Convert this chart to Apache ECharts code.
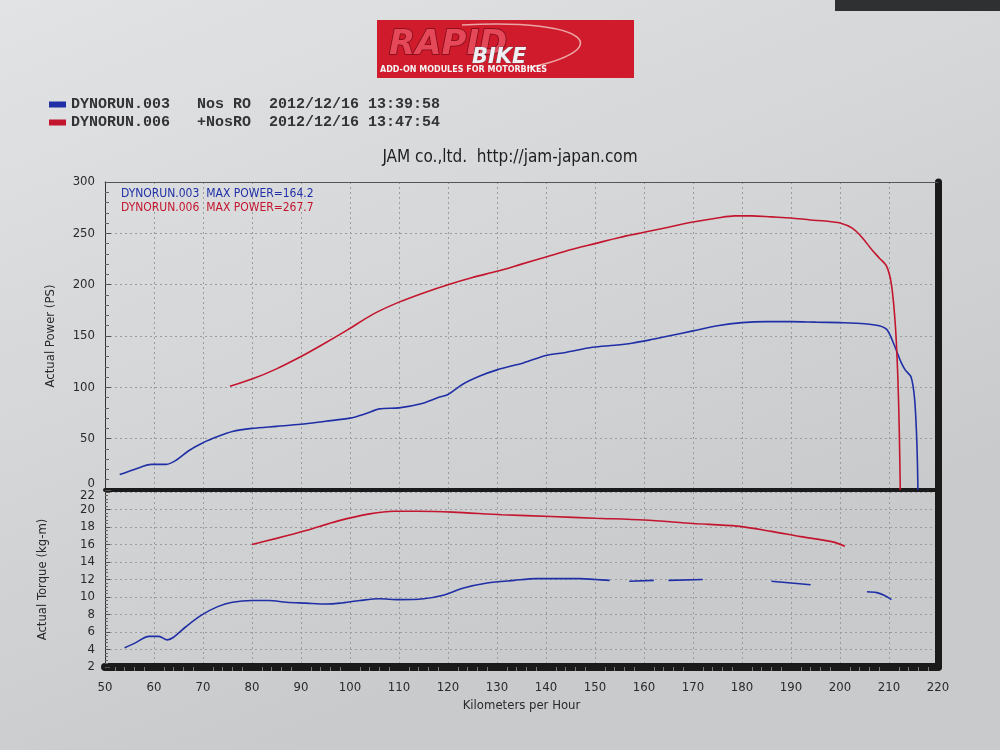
<!DOCTYPE html>
<html>
<head>
<meta charset="utf-8">
<script src="https://cdn.jsdelivr.net/npm/echarts@6/dist/echarts.min.js"></script>
<style>
html,body{margin:0;padding:0;background:#d6d7d9;}
#c{width:1000px;height:750px;}
</style>
</head>
<body>
<div id="c"></div>
<script>
// ---- data ----
const runNames = ['DYNORUN.003', 'DYNORUN.006'];
const runTags = ['Nos RO', '+NosRO'];
const runDates = ['2012/12/16 13:39:58', '2012/12/16 13:47:54'];
const maxPower = ['164.2', '267.7'];
const titleText = 'JAM co.,ltd.  http://jam-japan.com';
const xTicks = [50, 60, 70, 80, 90, 100, 110, 120, 130, 140, 150, 160, 170, 180, 190, 200, 210, 220];

const bluePowerKmh = [53, 56, 59.5, 62.5, 64.5, 67, 70, 73, 76, 80, 85, 90, 95, 100, 103, 106, 110, 114.5, 118, 120, 123, 126.5, 130, 135.5, 140, 144, 149.5, 154, 157.5, 161, 165, 170, 175, 180, 185, 190, 195, 200, 205, 208, 209.6, 211, 212.5, 213.3, 214.5, 215.2, 215.6, 215.8, 215.9];
const bluePower    = [15, 20, 25, 25, 29, 38, 46, 52, 57, 60, 62, 64, 67, 70, 74, 79, 80, 84, 90, 93, 103, 111, 117, 124, 131, 134, 139, 141, 143, 146, 150, 155, 160, 163, 164, 164, 163.5, 163, 162, 160, 156, 142, 124, 117, 110, 90, 57, 27, 0];

const redPowerKmh = [75.5, 80, 85, 90, 94.5, 99.5, 105, 110, 115, 120, 125, 130, 135, 140, 145, 150, 155, 160, 165, 170, 175, 178.5, 182, 186, 190, 194, 197, 200, 202.5, 204.5, 206.5, 208, 209.5, 210.5, 211.3, 211.8, 212.1, 212.3];
const redPower    = [101, 108, 118, 130, 142, 156, 172, 183, 192, 200, 207, 213, 220, 227, 234, 240, 246, 251, 256, 261, 265, 267, 267, 266, 265, 263, 262, 260, 255, 246, 234, 226, 218, 200, 160, 110, 57, 0];

// null = gap in the printed (dashed-looking) trace
const blueTorqueKmh = [54, 56, 59, 61, 62.7, 64, 66.5, 69.6, 73, 76, 80, 83.5, 87, 91, 95, 98, 102, 106, 110, 115, 119, 123, 128, 133.5, 138, 142, 147, 150, 153, 155, 157, 162, 163.5, 165, 172, 179, 186, 190, 194, 200, 205.5, 207.5, 209, 210.5];
const blueTorque    = [4.2, 4.7, 5.5, 5.5, 5.1, 5.4, 6.6, 7.9, 8.9, 9.4, 9.6, 9.6, 9.4, 9.3, 9.2, 9.3, 9.6, 9.8, 9.7, 9.8, 10.2, 11.0, 11.6, 11.9, 12.1, 12.1, 12.1, 12.0, 11.9, null, 11.8, 11.9, null, 11.9, 12.0, null, 11.8, 11.6, 11.4, null, 10.6, 10.5, 10.2, 9.7];

const redTorqueKmh = [80, 85, 91, 97.6, 104, 109, 114, 121, 131, 141, 150, 160, 170, 179, 186, 192, 198.5, 201];
const redTorque    = [16.0, 16.7, 17.6, 18.7, 19.5, 19.8, 19.8, 19.7, 19.4, 19.2, 19.0, 18.8, 18.4, 18.1, 17.5, 16.9, 16.3, 15.8];

const BLUE = '#1f2fa6';
const RED = '#c3162e';
const FONT = "'DejaVu Sans Condensed','Liberation Sans Narrow','DejaVu Sans',sans-serif";

function zip(xs, ys) { return xs.map((x, i) => [x, ys[i] === null ? '-' : ys[i]]); }

const chart = echarts.init(document.getElementById('c'));

const gridLine = { show: true, lineStyle: { color: '#9b9c9e', type: [2, 3], width: 1 } };
const labelStyle = { color: '#2a2a2a', fontFamily: FONT, fontSize: 13 };

function xAxisFor(grid, opts) {
  return Object.assign({
    type: 'value', gridIndex: grid, min: 50, max: 220, interval: 10,
    splitLine: gridLine,
    axisTick: { show: false },
    axisLabel: { show: false }
  }, opts);
}

const lineSeries = (name, xi, yi, data, color) => ({
  name: name, type: 'line', xAxisIndex: xi, yAxisIndex: yi, data: data,
  showSymbol: false, smooth: 0.3, connectNulls: false,
  lineStyle: { color: color, width: 1.6 }, itemStyle: { color: color }
});

const option = {
  backgroundColor: new echarts.graphic.LinearGradient(0, 0, 0.3, 1, [
    { offset: 0, color: '#e2e3e5' }, { offset: 1, color: '#c9cacc' }
  ]),
  animation: false,
  title: [
    { text: titleText, left: 505, top: 144, textAlign: 'center',
      textStyle: { fontFamily: FONT, fontSize: 17, fontWeight: 'normal', color: '#1e1e1e' } },
    { text: runNames[0] + '  MAX POWER=' + maxPower[0], left: 116, top: 183,
      textStyle: { fontFamily: FONT, fontSize: 12, fontWeight: 'normal', color: BLUE } },
    { text: runNames[1] + '  MAX POWER=' + maxPower[1], left: 116, top: 197,
      textStyle: { fontFamily: FONT, fontSize: 12, fontWeight: 'normal', color: RED } }
  ],
  legend: {
    data: runNames, orient: 'vertical', left: 44, top: 92, itemGap: 3,
    icon: 'rect', itemWidth: 17, itemHeight: 6,
    formatter: function (name) {
      const i = runNames.indexOf(name);
      return name + '   ' + runTags[i] + '  ' + runDates[i];
    },
    textStyle: { fontFamily: "'Liberation Mono','DejaVu Sans Mono',monospace", fontSize: 15, fontWeight: 'bold', color: '#333' }
  },
  grid: [
    { left: 105, right: 62, top: 182, height: 308, show: false },
    { left: 105, right: 62, top: 492, height: 175, show: false }
  ],
  xAxis: [
    xAxisFor(0, { axisLine: { show: true, onZero: false, lineStyle: { color: '#1a1a1a', width: 4 } } }),
    xAxisFor(1, {
      axisLine: { show: true, onZero: false, lineStyle: { color: '#1a1a1a', width: 8 } },
      axisLabel: { show: true, margin: 14, color: '#2a2a2a', fontFamily: FONT, fontSize: 13,
        formatter: v => xTicks.indexOf(v) >= 0 ? String(v) : '' },
      minorTick: { show: true, splitNumber: 5, length: 4, lineStyle: { color: '#777' } },
      name: 'Kilometers per Hour', nameLocation: 'middle', nameGap: 32,
      nameTextStyle: { fontFamily: FONT, fontSize: 13, color: '#2a2a2a' }
    }),
    xAxisFor(0, { position: 'top', splitLine: { show: false },
      axisLine: { show: true, onZero: false, lineStyle: { color: '#555', width: 1 } } })
  ],
  yAxis: [
    { type: 'value', gridIndex: 0, min: 0, max: 300, interval: 50,
      axisLine: { show: true, onZero: false, lineStyle: { color: '#333', width: 1 } },
      axisTick: { show: true, inside: true, length: 6, lineStyle: { color: '#555' } },
      minorTick: { show: true, splitNumber: 5, length: 4, lineStyle: { color: '#666' } },
      splitLine: gridLine,
      axisLabel: Object.assign({ margin: 10,
        formatter: v => v === 0 ? '{z|0}' : String(v),
        rich: { z: { fontFamily: FONT, fontSize: 13, color: '#2a2a2a', padding: [0, 0, 12, 0] } } }, labelStyle),
      name: 'Actual Power (PS)', nameLocation: 'middle', nameGap: 48,
      nameTextStyle: { fontFamily: FONT, fontSize: 13, color: '#2a2a2a' } },
    { type: 'value', gridIndex: 1, min: 2, max: 22, interval: 2,
      axisLine: { show: true, onZero: false, lineStyle: { color: '#333', width: 1 } },
      axisTick: { show: true, inside: true, length: 5, lineStyle: { color: '#555' } },
      minorTick: { show: true, splitNumber: 5, length: 3, lineStyle: { color: '#666' } },
      splitLine: gridLine,
      axisLabel: Object.assign({ margin: 10,
        formatter: v => v === 22 ? '{t|22}' : String(v),
        rich: { t: { fontFamily: FONT, fontSize: 13, color: '#2a2a2a', padding: [8, 0, 0, 0] } } }, labelStyle),
      name: 'Actual Torque (kg-m)', nameLocation: 'middle', nameGap: 56,
      nameTextStyle: { fontFamily: FONT, fontSize: 13, color: '#2a2a2a' } },
    { type: 'value', gridIndex: 0, position: 'right', min: 0, max: 300,
      axisLine: { show: true, onZero: false, lineStyle: { color: '#1a1a1a', width: 7 } },
      axisTick: { show: false }, axisLabel: { show: false }, splitLine: { show: false } },
    { type: 'value', gridIndex: 1, position: 'right', min: 2, max: 22,
      axisLine: { show: true, onZero: false, lineStyle: { color: '#1a1a1a', width: 7 } },
      axisTick: { show: false }, axisLabel: { show: false }, splitLine: { show: false } }
  ],
  series: [
    lineSeries(runNames[0], 0, 0, zip(bluePowerKmh, bluePower), BLUE),
    lineSeries(runNames[1], 0, 0, zip(redPowerKmh, redPower), RED),
    lineSeries(runNames[0], 1, 1, zip(blueTorqueKmh, blueTorque), BLUE),
    lineSeries(runNames[1], 1, 1, zip(redTorqueKmh, redTorque), RED)
  ],
  graphic: [
    { type: 'rect', x: 835, y: 0, shape: { width: 165, height: 11 }, style: { fill: '#2f3032' } },
    { type: 'group', x: 377, y: 20, children: [
      { type: 'rect', shape: { x: 0, y: 0, width: 257, height: 58 }, style: { fill: '#cf1b2c' } },
      { type: 'bezierCurve', shape: { x1: 85, y1: 5, cpx1: 215, cpy1: -2, cpx2: 240, cpy2: 30, x2: 150, y2: 48 },
        style: { stroke: '#eaa5a5', lineWidth: 1.6, fill: null } },
      { type: 'text', x: 12, y: 8, style: { text: 'RAPID', fontSize: 34, fontWeight: 'bold', fontStyle: 'italic',
        fontFamily: "'DejaVu Sans',sans-serif", fill: '#e54858', stroke: '#7a0c16', lineWidth: 1.5 } },
      { type: 'text', x: 95, y: 27, style: { text: 'BIKE', fontSize: 21, fontWeight: 'bold', fontStyle: 'italic',
        fontFamily: "'DejaVu Sans',sans-serif", fill: '#f0f0f4', stroke: '#555', lineWidth: 0.6 } },
      { type: 'text', x: 3, y: 46, style: { text: 'ADD-ON MODULES FOR MOTORBIKES', fontSize: 8, fontWeight: 'bold',
        fontFamily: "'DejaVu Sans',sans-serif", fill: '#f4f4f4' } }
    ] }
  ]
};
chart.setOption(option);
</script>
</body>
</html>
